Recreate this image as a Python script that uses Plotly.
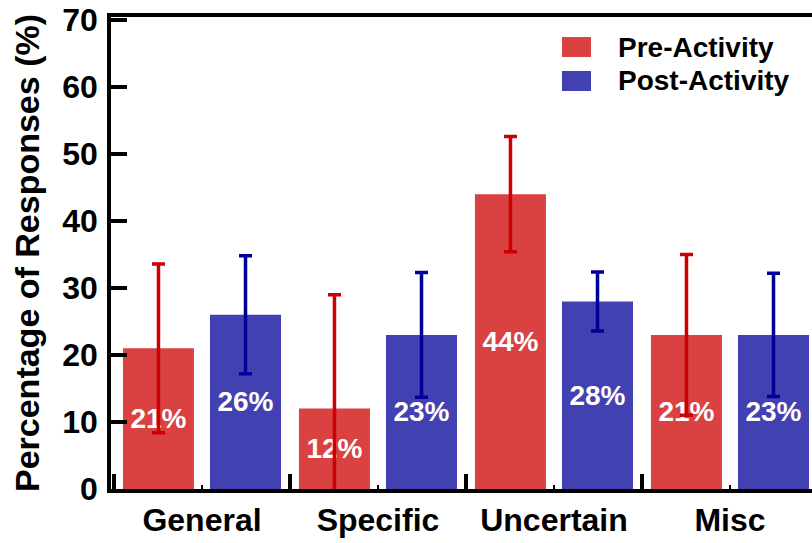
import plotly.graph_objects as go

categories = ["General", "Specific", "Uncertain", "Misc"]
pre_values = [21, 12, 44, 23]
post_values = [26, 23, 28, 23]
pre_err = [12.6, 17, 8.6, 12]
post_err = [8.8, 9.3, 4.4, 9.2]
pre_labels = ["21%", "12%", "44%", "21%"]
post_labels = ["26%", "23%", "28%", "23%"]
series_names = ["Pre-Activity", "Post-Activity"]
y_ticks = [0, 10, 20, 30, 40, 50, 60, 70]

FONT = "Liberation Sans, Arial, Helvetica, sans-serif"
RED = "#DA4141"
BLUE = "#4241B1"
RED_ERR = "#CC0000"
BLUE_ERR = "#000099"

W, H = 812, 543
ML = 111
MT = 17
PLOT_BOTTOM = 489
MB = H - PLOT_BOTTOM
MR = 0
PW, PH = W - ML - MR, H - MT - MB

xpos = list(range(len(categories)))

fig = go.Figure()
for name, vals, errs, labels, col, ecol in [
    (series_names[0], pre_values, pre_err, pre_labels, RED, RED_ERR),
    (series_names[1], post_values, post_err, post_labels, BLUE, BLUE_ERR),
]:
    fig.add_trace(go.Bar(
        name=name, x=xpos, y=vals,
        marker=dict(color=col, line=dict(width=0)),
        error_y=dict(type="data", array=errs, visible=True, color=ecol,
                     thickness=3.5, width=6.5),
        text=labels, textposition="inside", insidetextanchor="middle",
        textangle=0, constraintext="none",
        textfont=dict(family=FONT, size=28, color="white", weight="bold"),
        showlegend=False,
    ))

def xp(px):
    return (px - ML) / PW

def yp(py):
    return (PLOT_BOTTOM - py) / PH

shapes = []
annotations = []
for i, (name, col) in enumerate(zip(series_names, [RED, BLUE])):
    top = 37 + i * 34
    shapes.append(dict(type="rect", xref="paper", yref="paper",
                       x0=xp(562), x1=xp(591), y0=yp(top + 20), y1=yp(top),
                       fillcolor=col, line=dict(width=0)))
    annotations.append(dict(xref="paper", yref="paper", x=xp(616), y=yp(top + 10),
                            xanchor="left", yanchor="middle", showarrow=False,
                            text=name,
                            font=dict(family=FONT, size=28, color="black", weight="bold")))

fig.update_layout(
    width=W, height=H,
    margin=dict(l=ML, r=MR, t=MT, b=MB, autoexpand=False),
    paper_bgcolor="white", plot_bgcolor="white",
    barmode="group", bargap=0.011, bargroupgap=0.184,
    shapes=shapes, annotations=annotations,
    font=dict(family=FONT, color="black"),
    xaxis=dict(
        range=[-0.517, 3.466],
        tickmode="array", tickvals=xpos, ticktext=categories,
        ticks="inside", ticklen=4, tickwidth=2, tickcolor="black",
        minor=dict(tickmode="array", tickvals=[-0.5, 0.5, 1.5, 2.5, 3.5],
                   ticks="inside", ticklen=15, tickwidth=3.5, tickcolor="black"),
        showline=True, linewidth=3.5, linecolor="black", mirror=True,
        showgrid=False, zeroline=False,
        tickfont=dict(family=FONT, size=32, color="black", weight="bold"),
        ticklabelstandoff=0, ticklabeloverflow="allow",
    ),
    yaxis=dict(
        range=[0, 70.45],
        tickmode="array", tickvals=y_ticks,
        ticks="inside", ticklen=16, tickwidth=3.5, tickcolor="black",
        showline=True, linewidth=3.5, linecolor="black", mirror=False,
        showgrid=False, zeroline=False,
        tickfont=dict(family=FONT, size=32, color="black", weight="bold"),
        ticklabelstandoff=3, ticklabeloverflow="allow",
        title=dict(text="Percentage of Responses (%)", standoff=13,
                   font=dict(family=FONT, size=34, color="black", weight="bold")),
    ),
)

fig.write_html(
    "out.html",
    config={"displayModeBar": False},
    post_script="document.body.style.margin='0';document.body.style.overflow='hidden';",
)
